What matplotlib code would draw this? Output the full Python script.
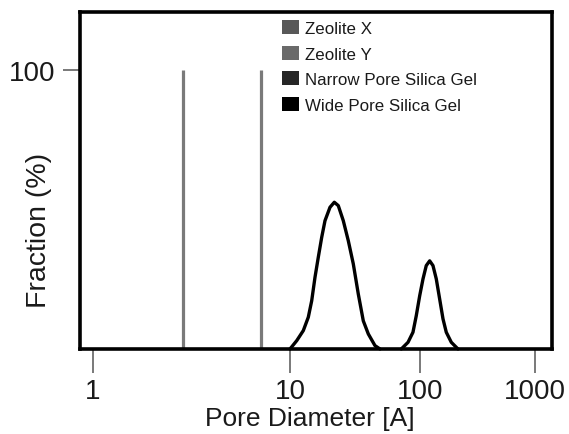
import numpy as np
import matplotlib
matplotlib.use("Agg")
import matplotlib.pyplot as plt
from matplotlib.patches import Patch
from matplotlib.ticker import FixedLocator, FixedFormatter, NullLocator

plt.rcParams['font.family'] = ['Liberation Sans', 'DejaVu Sans']

# ---- data ----
series_names = ["Zeolite X", "Zeolite Y", "Narrow Pore Silica Gel", "Wide Pore Silica Gel"]
legend_colors = ["#585858", "#6a6a6a", "#262626", "#000000"]

zeolite_x_pos = 7.1
zeolite_y_pos = 2.86
zeolite_height = 100

narrow_x = [10.0, 11.27, 12.66, 13.83, 14.69, 15.57, 16.51, 17.53, 18.59, 20.31,
            21.92, 23.52, 25.70, 28.09, 30.69, 33.53, 36.63, 40.03, 45.07, 49.24]
narrow_y = [0.0, 3.0, 6.6, 11.4, 17.3, 25.7, 32.9, 40.0, 46.0, 50.8,
            52.6, 51.4, 46.0, 38.8, 30.5, 19.7, 10.1, 5.4, 1.2, 0.0]

wide_x = [71.8, 80.9, 88.3, 93.6, 99.5, 106.2, 113.4, 121.4, 129.7, 138.6,
          148.3, 158.5, 169.3, 187.2, 214.0]
wide_y = [0.0, 2.4, 6.0, 11.9, 19.1, 25.1, 29.9, 31.6, 29.9, 25.1,
          17.9, 10.8, 6.0, 2.4, 0.0]

x_ticks = [1, 10, 100, 1000]
x_tick_labels = ["1", "10", "100", "1000"]
y_ticks = [100]
y_tick_labels = ["100"]

# ---- non-uniform log axis (decades drawn with unequal widths in the original) ----
DEC = np.array([0.0, 1.0, 2.0, 3.0])
PXD = np.array([0.0, 197.0, 327.0, 442.0])

def _pw(v, xs, ys):
    v = np.asarray(v, dtype=float)
    out = np.interp(v, xs, ys)
    lo = v < xs[0]
    hi = v > xs[-1]
    out = np.where(lo, ys[0] + (v - xs[0]) * (ys[1] - ys[0]) / (xs[1] - xs[0]), out)
    out = np.where(hi, ys[-1] + (v - xs[-1]) * (ys[-1] - ys[-2]) / (xs[-1] - xs[-2]), out)
    return out

def fwd(x):
    x = np.asarray(x, dtype=float)
    return _pw(np.log10(np.clip(x, 1e-12, None)), DEC, PXD)

def inv(p):
    return 10 ** _pw(p, PXD, DEC)

fig = plt.figure(figsize=(5.69, 4.35), dpi=100)
ax = fig.add_axes([80 / 569, 1 - 350 / 435, 472 / 569, 337 / 435])
ax.set_xscale('function', functions=(fwd, inv))

# zeolite lines
ax.vlines([zeolite_y_pos, zeolite_x_pos], 0, zeolite_height, colors="#7a7a7a", linewidth=2.3)
# silica gel peaks
ax.plot(narrow_x, narrow_y, color="black", linewidth=2.4, solid_capstyle='round',
        solid_joinstyle='round', clip_on=False)
ax.plot(wide_x, wide_y, color="black", linewidth=2.4, solid_capstyle='round',
        solid_joinstyle='round', clip_on=False)

ax.set_xlim(0.859, 1406)
ax.set_ylim(0, 120.8)

ax.xaxis.set_major_locator(FixedLocator(x_ticks))
ax.xaxis.set_major_formatter(FixedFormatter(x_tick_labels))
ax.xaxis.set_minor_locator(NullLocator())
ax.yaxis.set_major_locator(FixedLocator(y_ticks))
ax.yaxis.set_major_formatter(FixedFormatter(y_tick_labels))
ax.yaxis.set_minor_locator(NullLocator())

for s in ax.spines.values():
    s.set_linewidth(2.6)
    s.set_color("black")

ax.tick_params(axis='x', direction='out', length=17, width=1.1, color="#555555",
               labelsize=20, labelcolor="#1a1a1a", pad=4)
ax.tick_params(axis='y', direction='out', length=12, width=1.1, color="#555555",
               labelsize=20, labelcolor="#1a1a1a", pad=6)

ax.set_xlabel("Pore Diameter [A]", fontsize=19, color="#1a1a1a")
ax.xaxis.set_label_coords(0.487, -0.170)
ax.set_ylabel("Fraction (%)", fontsize=20.5, color="#1a1a1a")
ax.yaxis.set_label_coords(-0.06, 0.356)

handles = [Patch(facecolor=c, edgecolor='none', label=n) for n, c in zip(series_names, legend_colors)]
leg = ax.legend(handles=handles, loc='upper left', bbox_to_anchor=(282 / 569, 1 - 21 / 435),
                bbox_transform=fig.transFigure, frameon=False, fontsize=12.2,
                handlelength=1.0, handleheight=0.9, handletextpad=0.35,
                labelspacing=0.58, borderpad=0, borderaxespad=0)
for t in leg.get_texts():
    t.set_color("#1a1a1a")

fig.savefig("out.png", dpi=100, facecolor="white")
